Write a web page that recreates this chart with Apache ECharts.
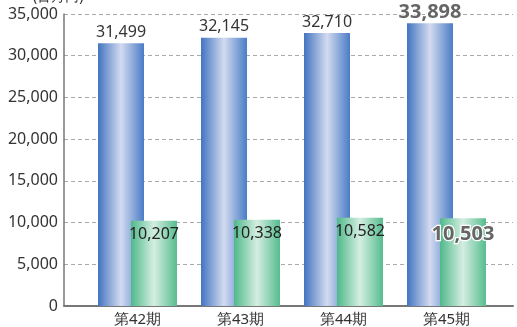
<!DOCTYPE html>
<html><head><meta charset="utf-8">
<script src="https://cdn.jsdelivr.net/npm/echarts@6/dist/echarts.min.js"></script>
<style>html,body{margin:0;padding:0;background:#fff}#c{width:517px;height:327px}</style>
</head><body><div id="c"></div>
<script>
const categories = ['第42期','第43期','第44期','第45期'];
const salesValues = [31499, 32145, 32710, 33898];
const profitValues = [10207, 10338, 10582, 10503];
const yTicks = [0, 5000, 10000, 15000, 20000, 25000, 30000, 35000];
const unitLabel = '(百万円)';

const FONT = '"Noto Sans", sans-serif';
const blueGrad = new echarts.graphic.LinearGradient(0,0,1,0,[
  {offset:0,color:'#4274c0'},{offset:0.5,color:'#d3dbf0'},{offset:1,color:'#4a7cc6'}]);
const greenGrad = new echarts.graphic.LinearGradient(0,0,1,0,[
  {offset:0,color:'#4fb98a'},{offset:0.5,color:'#d5eee2'},{offset:1,color:'#55bc8e'}]);
const hiLabel = {fontSize:20,fontWeight:'bold',color:'#666',textBorderColor:'#fff',textBorderWidth:2.5};

const chart = echarts.init(document.getElementById('c'));
chart.setOption({
  animation:false,
  graphic:[{type:'text',left:33,top:-10,style:{text:unitLabel,font:'14px '+FONT,fill:'#333'}}],
  grid:[{left:64,right:4,top:14,bottom:21},{left:86,right:19,top:14,bottom:21}],
  xAxis:[
    {gridIndex:0,type:'category',data:[''],axisTick:{show:false},axisLabel:{show:false},
     axisLine:{lineStyle:{color:'#777',width:2}}},
    {gridIndex:1,type:'category',data:categories,axisTick:{show:false},axisLine:{show:false},
     axisLabel:{fontSize:15,color:'#333',fontFamily:FONT,margin:6}}
  ],
  yAxis:[
    {gridIndex:0,type:'value',min:yTicks[0],max:yTicks[yTicks.length-1],interval:5000,
     axisLine:{show:true,lineStyle:{color:'#777',width:1.5}},axisTick:{show:false},
     axisLabel:{fontSize:16,color:'#333',fontFamily:FONT,margin:6,
       formatter:v=>v.toLocaleString('en-US')},
     splitLine:{lineStyle:{type:[4,3],color:'#aaa'}}},
    {gridIndex:1,type:'value',min:0,max:35000,show:false}
  ],
  series:[
    {type:'bar',xAxisIndex:1,yAxisIndex:1,barWidth:46,barGap:'-28.3%',
     itemStyle:{color:blueGrad},
     label:{show:true,position:'top',distance:3,fontSize:16,color:'#333',fontFamily:FONT,
       formatter:p=>p.value.toLocaleString('en-US')},
     data:salesValues.map((v,i)=>i===3?{value:v,label:Object.assign({distance:1},hiLabel)}:v)},
    {type:'bar',xAxisIndex:1,yAxisIndex:1,barWidth:46,
     itemStyle:{color:greenGrad},
     label:{show:true,position:'insideTop',distance:6,fontSize:16,color:'#222',fontFamily:FONT,
       formatter:p=>p.value.toLocaleString('en-US')},
     data:profitValues.map((v,i)=>i===3?{value:v,label:hiLabel}:v)}
  ]
});
</script></body></html>
